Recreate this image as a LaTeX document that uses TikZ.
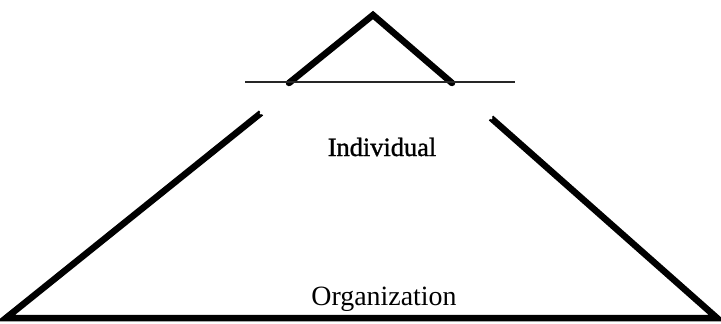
\documentclass[tikz,border=0pt]{standalone}
\usepackage{fontspec}
\setmainfont{Liberation Serif}
\newfontfamily\heavyserif[FakeBold=1.2]{Liberation Serif}
\begin{document}
\begin{tikzpicture}[x=1bp,y=-1bp,
  thickline/.style={line width=6.5bp, line cap=round, line join=miter},
  thinline/.style={line width=1.8bp, black!85},
  label/.style={inner sep=0pt, anchor=base}]
\useasboundingbox (0,0) rectangle (721,323);
% small triangle
\coordinate (tl) at (289,83);
\coordinate (tt) at (373,15);
\coordinate (tr) at (452,83);
\draw[thickline] (tl) -- (tt) -- (tr);
% thin horizontal line
\coordinate (hl) at (245,82);
\coordinate (hr) at (515,82);
\draw[thinline] (hl) -- (hr);
% large shape
\coordinate (lt) at (261,113);
\coordinate (lb) at (6,318);
\coordinate (rb) at (717,318);
\coordinate (rt) at (491,118);
\draw[thickline, line cap=butt] (lt) -- (lb) -- (rb) -- (rt);
\fill[white] (lt) circle (1.5bp);
\fill[white] (rt) circle (1.5bp);
% labels
\node[label, font=\heavyserif\fontsize{26.5}{30}\selectfont] (ind) at (382,156) {Individual};
\node[label, font=\fontsize{28}{32}\selectfont] (org) at (384,305) {Organization};
\end{tikzpicture}
\end{document}
